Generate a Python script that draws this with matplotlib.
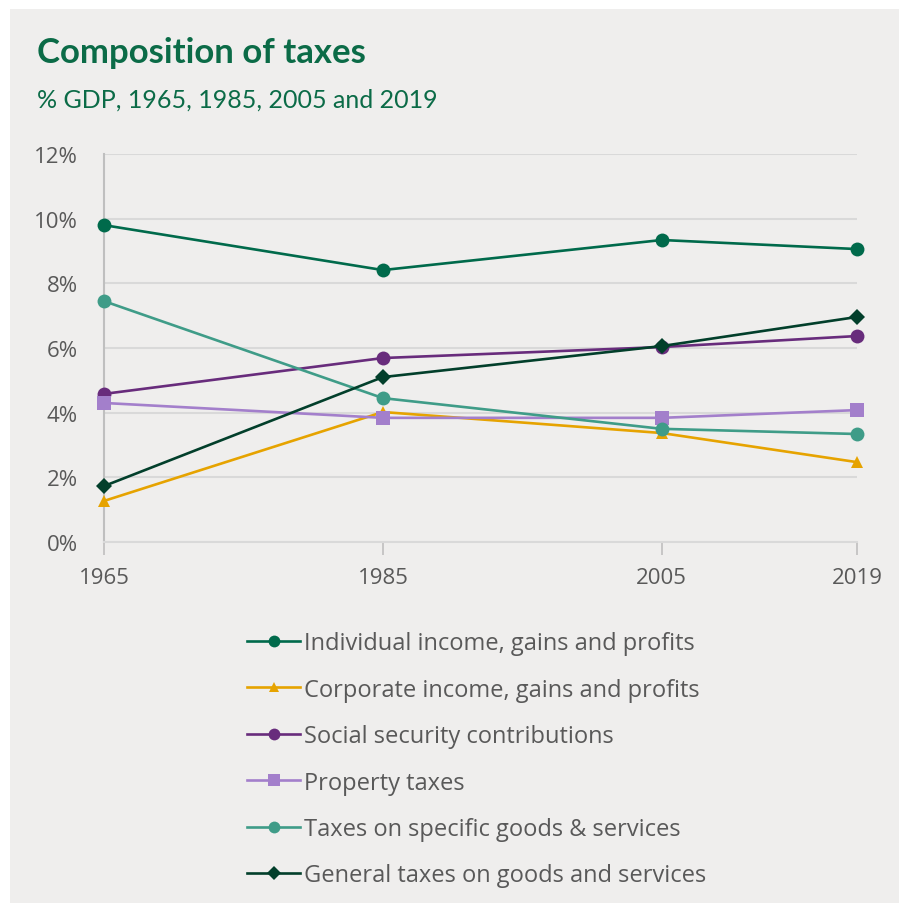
import matplotlib.pyplot as plt
from matplotlib.patches import Rectangle
from matplotlib.ticker import FuncFormatter

# Tax composition, % of GDP
years = [1965, 1985, 2005, 2019]
individual = [9.80, 8.41, 9.34, 9.06]
corporate = [1.27, 4.02, 3.37, 2.47]
social = [4.58, 5.69, 6.03, 6.37]
property_tax = [4.30, 3.84, 3.84, 4.08]
specific_goods = [7.45, 4.45, 3.50, 3.34]
general_goods = [1.73, 5.10, 6.06, 6.96]

labels = [
    "Individual income, gains and profits",
    "Corporate income, gains and profits",
    "Social security contributions",
    "Property taxes",
    "Taxes on specific goods & services",
    "General taxes on goods and services",
]
series = [individual, corporate, social, property_tax, specific_goods, general_goods]
colors = ["#006a4b", "#e6a300", "#682c7c", "#a37fcb", "#3f9c88", "#023f2b"]
markers = ["o", "^", "o", "s", "o", "D"]
msizes = [10, 8.5, 10, 10, 10, 8]

bg = "#efeeed"
title_green = "#0b6b47"
tick_grey = "#595959"

plt.rcParams["font.family"] = ["Open Sans", "DejaVu Sans"]

fig = plt.figure(figsize=(8.99, 9.04), dpi=100)
fig.patch.set_facecolor("white")
# grey panel behind everything
fig.patches.append(Rectangle((10 / 899, 0), 1, 1 - 10 / 904, transform=fig.transFigure,
                             facecolor=bg, edgecolor="none", zorder=-10))

ax = fig.add_axes([104 / 899, 1 - 543 / 904, (857 - 104) / 899, (543 - 155) / 904])
ax.set_facecolor(bg)

for vals, lab, c, m, ms in zip(series, labels, colors, markers, msizes):
    ax.plot(years, vals, color=c, lw=1.9, marker=m, markersize=ms,
            markeredgewidth=0, label=lab, clip_on=False, zorder=3)

ax.set_xlim(1965, 2019)
ax.set_ylim(0, 12)
ax.set_yticks(range(0, 13, 2))
ax.yaxis.set_major_formatter(FuncFormatter(lambda v, p: f"{v:.0f}%"))
ax.set_xticks(years)
ax.set_xticklabels([str(y) for y in years])

ax.grid(axis="y", color="#d9d9d9", lw=1.5, zorder=0)
ax.set_axisbelow(True)
for s in ["top", "right"]:
    ax.spines[s].set_visible(False)
ax.spines["left"].set_color("#bfbfbf")
ax.spines["left"].set_linewidth(1.5)
ax.spines["bottom"].set_color("#d9d9d9")
ax.spines["bottom"].set_linewidth(1.5)

ax.tick_params(axis="y", length=0, pad=19, labelsize=16, labelcolor=tick_grey)
ax.tick_params(axis="x", length=9, width=1.2, color="#bfbfbf", pad=9,
               labelsize=16, labelcolor=tick_grey)

fig.text(37 / 899, 1 - 63 / 904, "Composition of taxes", fontsize=25,
         fontweight="bold", color=title_green, family=["Lato", "DejaVu Sans"])
fig.text(37 / 899, 1 - 108 / 904, "% GDP, 1965, 1985, 2005 and 2019", fontsize=18,
         color=title_green, family=["Lato", "DejaVu Sans"])

leg = fig.legend(loc="upper left", bbox_to_anchor=(226 / 899, 1 - 611 / 904),
                 frameon=False, fontsize=17, handlelength=2.25, handletextpad=0.17,
                 labelspacing=0.95, markerscale=0.85)
for t in leg.get_texts():
    t.set_color(tick_grey)

fig.savefig("out.png", dpi=100, facecolor=fig.get_facecolor())
